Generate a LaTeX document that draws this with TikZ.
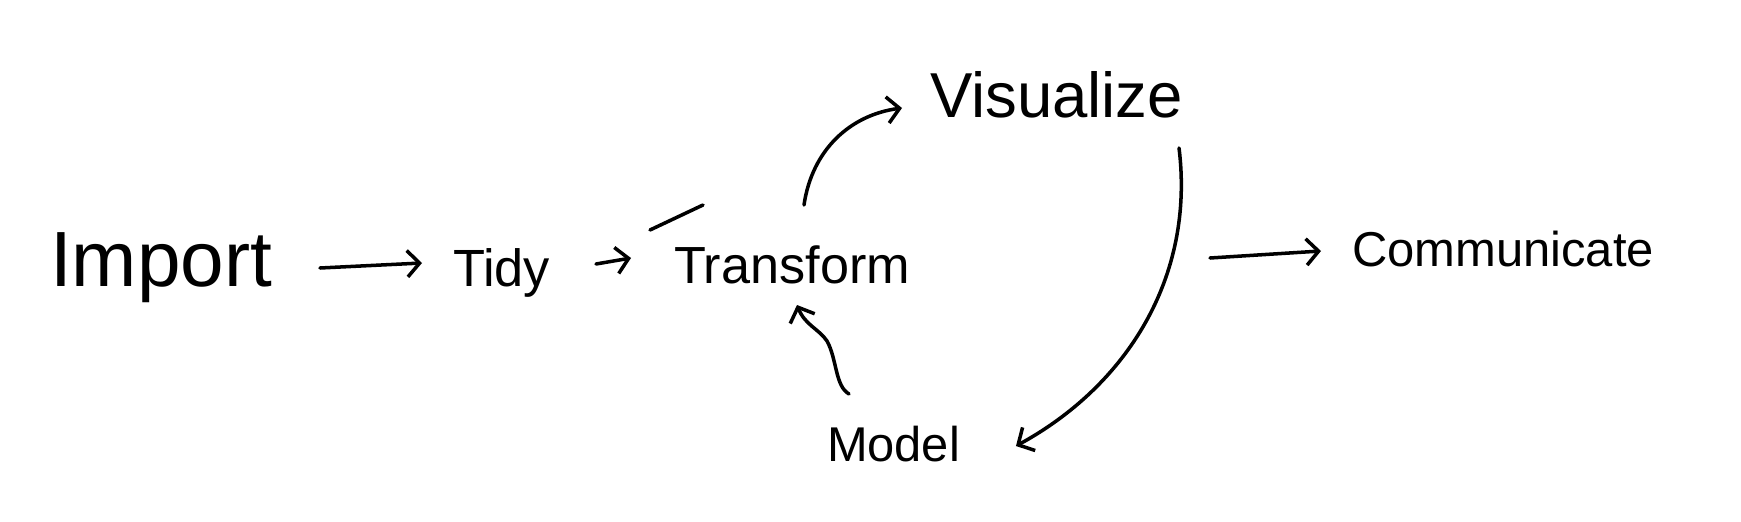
\documentclass[tikz,border=0pt]{standalone}
\usepackage{graphicx}
\usepackage{fontspec}
\setmainfont{Liberation Sans}
\usetikzlibrary{arrows.meta,calc}
\tikzset{
  lbl/.style={inner sep=0pt, outer sep=0pt, anchor=base west},
  pen/.style={line width=2pt, line cap=round, line join=round, black},
  arr/.style={pen, -{Straight Barb[length=7pt,width=15pt,line width=2pt]}},
}
\begin{document}
\begin{tikzpicture}[x=0.02cm, y=-0.02cm]
\useasboundingbox (0,0) rectangle (1741,521);
\node[lbl] (import) at (50,286) {\resizebox{4.44cm}{!}{Import}};
\node[lbl] (tidy) at (453,286) {\resizebox{1.94cm}{!}{Tidy}};
\node[lbl] (transform) at (674,283) {\resizebox{4.72cm}{!}{Transform}};
\node[lbl] (visualize) at (930,117) {\resizebox{5.06cm}{!}{Visualize}};
\node[lbl] (model) at (827,461) {\resizebox{2.66cm}{!}{Model}};
\node[lbl] (communicate) at (1352,266) {\resizebox{6.04cm}{!}{Communicate}};
\coordinate (loopout) at (1210,258);
% Import -> Tidy
\draw[arr] ($(import.base east)+(48,-18)$) -- ($(tidy.base west)+(-31,-23)$);
% Tidy -> Transform
\draw[arr] ($(tidy.base east)+(46,-22)$) -- ($(transform.base west)+(-43,-25)$);
% stray stroke above Transform
\draw[pen] ($(transform.base west)+(-24,-53)$) -- ($(transform.base west)+(29,-78)$);
% Transform -> Visualize
\draw[arr] ($(transform.base west)+(130,-78)$) .. controls +(8,-55) and +(-52,7) .. ($(visualize.base west)+(-28,-9)$);
% Visualize -> Model
\draw[arr] ($(visualize.base east)+(-4,31)$) .. controls +(16,130) and +(110,-60) .. ($(model.base east)+(56,-15)$);
% Model -> Transform
\draw[arr] ($(model.base west)+(22,-67)$) .. controls +(-14,-8) and +(10,18) .. ($(model.base west)+(0,-120)$) .. controls +(-8,-12) and +(8,20) .. ($(transform.base west)+(123,22)$);
% -> Communicate
\draw[arr] (loopout) -- ($(communicate.base west)+(-31,-15)$);
\end{tikzpicture}
\end{document}
